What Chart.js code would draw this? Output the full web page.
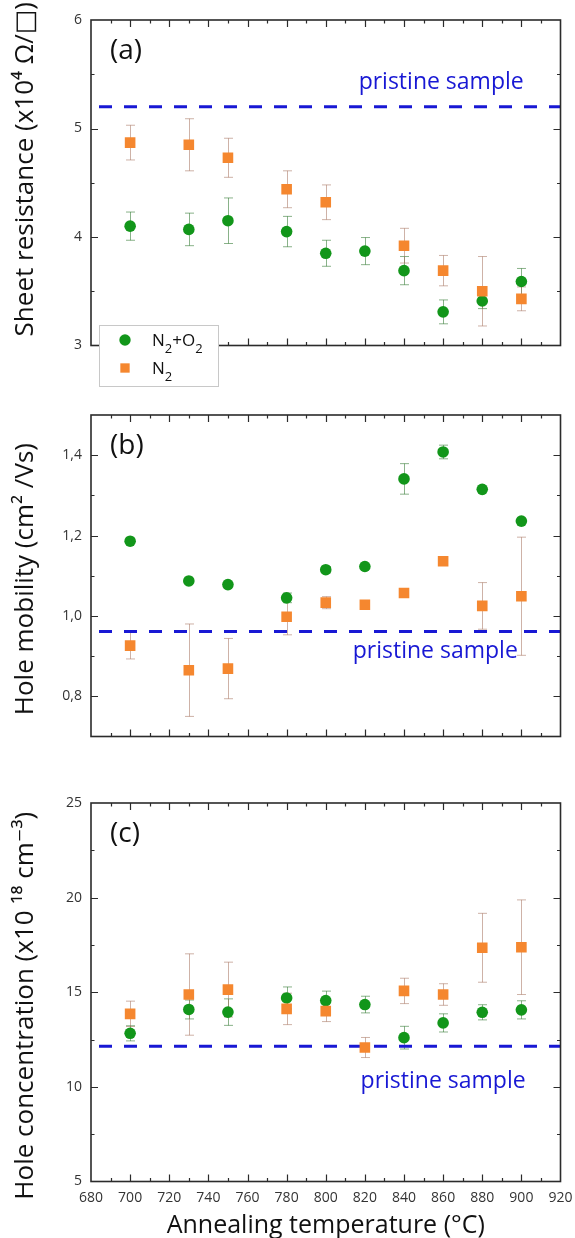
<!DOCTYPE html>
<html>
<head>
<meta charset="utf-8">
<script src="https://cdn.jsdelivr.net/npm/chart.js@4.4.1/dist/chart.umd.min.js"></script>
<style>
  html, body { margin: 0; padding: 0; background: #fff; }
  #wrap { position: relative; width: 575px; height: 1238px; overflow: hidden; }
  #wrap canvas { position: absolute; left: 0; top: 0; }
</style>
</head>
<body>
<div id="wrap">
  <canvas id="chartA" width="575" height="1238"></canvas>
  <canvas id="chartB" width="575" height="1238"></canvas>
  <canvas id="chartC" width="575" height="1238"></canvas>
</div>
<script>
// Annealing temperatures (°C)
const temperatures = [700, 730, 750, 780, 800, 820, 840, 860, 880, 900]
const tempTicks = [680, 700, 720, 740, 760, 780, 800, 820, 840, 860, 880, 900, 920]

// (a) sheet resistance (x10^4 ohm/sq)
const sheetN2O2 = [4.10, 4.07, 4.15, 4.05, 3.85, 3.87, 3.69, 3.31, 3.41, 3.59]
const sheetN2O2Err = [0.13, 0.15, 0.21, 0.14, 0.12, 0.125, 0.13, 0.11, 0.07, 0.12]
const sheetN2 = [4.87, 4.85, 4.73, 4.44, 4.32, null, 3.92, 3.69, 3.50, 3.43]
const sheetN2Err = [0.16, 0.24, 0.18, 0.17, 0.16, null, 0.16, 0.14, 0.32, 0.11]
const sheetPristine = 5.2
const sheetTicks = [3, 4, 5, 6]

// (b) hole mobility (cm2/Vs)
const mobN2O2 = [1.186, 1.087, 1.078, 1.045, 1.115, 1.123, 1.341, 1.408, 1.315, 1.236]
const mobN2O2Err = [0.005, 0.005, 0.005, 0.012, 0.008, 0.005, 0.038, 0.017, 0.005, 0.005]
const mobN2 = [0.926, 0.865, 0.869, 0.998, 1.033, 1.028, 1.057, 1.136, 1.025, 1.049]
const mobN2Err = [0.033, 0.115, 0.075, 0.045, 0.015, 0.005, 0.006, 0.006, 0.058, 0.147]
const mobPristine = 0.961
const mobTicks = [0.8, 1.0, 1.2, 1.4]

// (c) hole concentration (x10^18 cm^-3)
const concN2O2 = [12.83, 14.09, 13.95, 14.70, 14.56, 14.35, 12.60, 13.38, 13.94, 14.07]
const concN2O2Err = [0.40, 0.50, 0.70, 0.58, 0.50, 0.44, 0.60, 0.48, 0.40, 0.48]
const concN2 = [13.86, 14.88, 15.14, 14.12, 14.00, 12.08, 15.07, 14.88, 17.35, 17.38]
const concN2Err = [0.67, 2.15, 1.45, 0.83, 0.55, 0.53, 0.67, 0.57, 1.82, 2.50]
const concPristine = 12.15
const concTicks = [5, 10, 15, 20, 25]

const FONT = "'Open Sans', 'DejaVu Sans', sans-serif"
const GREEN = '#12961a'
const ORANGE = '#f5872f'
const BLUE = '#1818d4'

Chart.defaults.font.family = FONT

const points = (vals, errs) =>
  temperatures
    .map((t, i) => ({ x: t, y: vals[i], err: errs[i] }))
    .filter(p => p.y !== null)

// vertical error bars with caps, drawn under the markers
const errorBars = {
  id: 'errorBars',
  beforeDatasetsDraw(chart) {
    const { ctx, scales: { x, y } } = chart
    chart.data.datasets.forEach(ds => {
      if (!ds.errorColor) return
      ctx.save()
      ctx.strokeStyle = ds.errorColor
      ctx.lineWidth = 1
      ds.data.forEach(p => {
        if (!p.err) return
        const px = Math.round(x.getPixelForValue(p.x)) + 0.5
        const top = y.getPixelForValue(p.y + p.err)
        const bot = y.getPixelForValue(p.y - p.err)
        ctx.beginPath()
        ctx.moveTo(px, top); ctx.lineTo(px, bot)
        ctx.moveTo(px - 4.5, top); ctx.lineTo(px + 4.5, top)
        ctx.moveTo(px - 4.5, bot); ctx.lineTo(px + 4.5, bot)
        ctx.stroke()
      })
      ctx.restore()
    })
  }
}

// box frame with inward major/minor ticks on all four sides
const frameTicks = {
  id: 'frameTicks',
  afterDatasetsDraw(chart, args, opts) {
    const { ctx, chartArea: a, scales: { x, y } } = chart
    const isMajor = (v, step) => Math.abs(v / step - Math.round(v / step)) < 1e-6
    ctx.save()
    ctx.strokeStyle = '#2b2b2b'
    ctx.lineWidth = 1.2
    ctx.beginPath()
    for (let i = 1; x.min + i * opts.xMinor < x.max - 1e-9; i++) {
      const v = x.min + i * opts.xMinor
      const len = isMajor(v, opts.xMajor) ? 7 : 3.5
      const px = Math.round(x.getPixelForValue(v)) + 0.5
      ctx.moveTo(px, a.bottom); ctx.lineTo(px, a.bottom - len)
      ctx.moveTo(px, a.top); ctx.lineTo(px, a.top + len)
    }
    for (let i = 1; y.min + i * opts.yMinor < y.max - 1e-9; i++) {
      const v = y.min + i * opts.yMinor
      const len = isMajor(v, opts.yMajor) ? 7 : 3.5
      const py = Math.round(y.getPixelForValue(v)) + 0.5
      ctx.moveTo(a.left, py); ctx.lineTo(a.left + len, py)
      ctx.moveTo(a.right, py); ctx.lineTo(a.right - len, py)
    }
    ctx.stroke()
    ctx.lineWidth = 1.6
    ctx.strokeRect(a.left, a.top, a.right - a.left, a.bottom - a.top)
    ctx.restore()
  }
}

// "pristine sample" text next to the dashed reference line
const pristineLabel = {
  id: 'pristineLabel',
  afterDatasetsDraw(chart, args, opts) {
    const { ctx, scales: { x, y } } = chart
    ctx.save()
    ctx.font = `23px ${FONT}`
    ctx.fillStyle = BLUE
    ctx.textAlign = 'center'
    ctx.textBaseline = 'alphabetic'
    ctx.fillText(opts.text, x.getPixelForValue(opts.atX), y.getPixelForValue(opts.atY) + opts.dy)
    ctx.restore()
  }
}

// panel letter (a), (b), (c)
const panelLetter = {
  id: 'panelLetter',
  afterDraw(chart, args, opts) {
    const { ctx, chartArea: a } = chart
    ctx.save()
    ctx.font = `28px ${FONT}`
    ctx.fillStyle = '#111'
    ctx.textAlign = 'left'
    ctx.textBaseline = 'middle'
    ctx.fillText(opts.text, a.left + 19, a.top + 31)
    ctx.restore()
  }
}

// boxed legend inside panel (a), subscripts drawn smaller and lower
const insetLegend = {
  id: 'insetLegend',
  afterDraw(chart, args, opts) {
    if (!opts.display) return
    const { ctx } = chart
    ctx.save()
    ctx.fillStyle = '#fff'
    ctx.fillRect(opts.left, opts.top, opts.width, opts.height)
    ctx.strokeStyle = '#c8c8c8'
    ctx.lineWidth = 1
    ctx.strokeRect(opts.left + 0.5, opts.top + 0.5, opts.width, opts.height)
    chart.data.datasets.filter(ds => ds.legendParts).forEach((ds, i) => {
      const cy = opts.top + opts.firstRow + i * opts.rowGap
      ctx.fillStyle = ds.backgroundColor
      Chart.helpers.drawPoint(ctx, {
        pointStyle: ds.pointStyle, radius: ds.legendRadius, rotation: 0, borderWidth: 0
      }, opts.left + opts.markerX, cy)
      let tx = opts.left + opts.textX
      ctx.fillStyle = '#111'
      ctx.textBaseline = 'alphabetic'
      ctx.textAlign = 'left'
      ds.legendParts.forEach(([txt, sub]) => {
        ctx.font = sub ? `13px ${FONT}` : `17px ${FONT}`
        ctx.fillText(txt, tx, cy + (sub ? 13 : 6))
        tx += ctx.measureText(txt).width
      })
    })
    ctx.restore()
  }
}

function makePanel(canvasId, cfg) {
  const datasets = [
    {
      label: 'N2+O2',
      order: 1,
      data: points(cfg.n2o2, cfg.n2o2Err),
      pointStyle: 'circle',
      pointRadius: 5.8,
      legendRadius: 5.7,
      pointBorderWidth: 0,
      backgroundColor: GREEN,
      errorColor: 'rgba(40, 115, 40, 0.55)',
      legendParts: [['N', false], ['2', true], ['+O', false], ['2', true]]
    },
    {
      label: 'N2',
      order: 0,
      data: points(cfg.n2, cfg.n2Err),
      pointStyle: 'rect',
      pointRadius: 7.5,
      legendRadius: 6.6,
      pointBorderWidth: 0,
      backgroundColor: ORANGE,
      errorColor: 'rgba(165, 115, 95, 0.55)',
      legendParts: [['N', false], ['2', true]]
    },
    {
      type: 'line',
      label: 'pristine',
      order: 2,
      data: [{ x: 680, y: cfg.pristine }, { x: 920, y: cfg.pristine }],
      borderColor: BLUE,
      borderWidth: 3,
      borderDash: [13, 12],
      borderDashOffset: -8,
      pointRadius: 0
    }
  ]

  return new Chart(document.getElementById(canvasId), {
    type: 'scatter',
    data: { datasets },
    options: {
      responsive: false,
      animation: false,
      devicePixelRatio: 1,
      layout: { padding: { top: cfg.top, bottom: cfg.bottom, left: 0, right: 14.5 } },
      scales: {
        x: {
          type: 'linear',
          min: tempTicks[0],
          max: tempTicks[tempTicks.length - 1],
          display: cfg.showX,
          afterBuildTicks(scale) { scale.ticks = tempTicks.map(v => ({ value: v })) },
          afterFit(scale) {
            scale.height = 56.5
            scale.paddingLeft = 0
            scale.paddingRight = 0
          },
          grid: { display: false, drawTicks: false },
          border: { display: false },
          ticks: {
            padding: 8, maxRotation: 0, autoSkip: false,
            color: '#333', font: { size: 14 }
          },
          title: {
            display: true,
            text: 'Annealing temperature (°C)',
            color: '#111',
            font: { size: 25, lineHeight: 1 },
            padding: { top: 0, bottom: 0 }
          }
        },
        y: {
          min: cfg.yMin,
          max: cfg.yMax,
          afterBuildTicks(scale) { scale.ticks = cfg.yTicks.map(v => ({ value: v })) },
          afterFit(scale) {
            scale.width = 91
            scale.paddingTop = 0
            scale.paddingBottom = 0
          },
          grid: { display: false, drawTicks: false },
          border: { display: false },
          ticks: {
            padding: 9, color: '#333', font: { size: 14 },
            callback: cfg.yFormat
          },
          title: {
            display: true,
            text: cfg.yTitle,
            color: '#111',
            font: { size: 26, lineHeight: 1.2 },
            padding: { top: 10, bottom: 0 }
          }
        }
      },
      plugins: {
        legend: { display: false },
        tooltip: { enabled: false },
        frameTicks: { xMinor: 10, xMajor: 20, yMinor: cfg.yMinor, yMajor: cfg.yMinor * 2 },
        pristineLabel: { text: 'pristine sample', atX: cfg.labelX, atY: cfg.pristine, dy: cfg.labelDy },
        panelLetter: { text: cfg.letter },
        insetLegend: {
          display: cfg.legend, left: 99, top: 325, width: 119, height: 61,
          firstRow: 15, rowGap: 28, markerX: 26, textX: 53
        }
      }
    },
    plugins: [errorBars, frameTicks, pristineLabel, panelLetter, insetLegend]
  })
}

const commaFormat = v => v.toFixed(1).replace('.', ',')

// padding spaces nudge the centred axis titles the way they sit in the figure
makePanel('chartA', {
  n2o2: sheetN2O2, n2o2Err: sheetN2O2Err, n2: sheetN2, n2Err: sheetN2Err,
  pristine: sheetPristine,
  yMin: 3, yMax: 6, yTicks: sheetTicks, yMinor: 0.5, yFormat: v => String(v),
  yTitle: '    Sheet resistance (x10⁴ Ω/□)',
  top: 20, bottom: 836, showX: false,
  labelX: 859, labelDy: -18, letter: '(a)', legend: true
})

makePanel('chartB', {
  n2o2: mobN2O2, n2o2Err: mobN2O2Err, n2: mobN2, n2Err: mobN2Err,
  pristine: mobPristine,
  yMin: 0.7, yMax: 1.5, yTicks: mobTicks, yMinor: 0.1, yFormat: commaFormat,
  yTitle: 'Hole mobility (cm² /Vs) ',
  top: 415, bottom: 445, showX: false,
  labelX: 856, labelDy: 26, letter: '(b)', legend: false
})

makePanel('chartC', {
  n2o2: concN2O2, n2o2Err: concN2O2Err, n2: concN2, n2Err: concN2Err,
  pristine: concPristine,
  yMin: 5, yMax: 25, yTicks: concTicks, yMinor: 2.5, yFormat: v => String(v),
  yTitle: 'Hole concentration (x10 ¹⁸ cm⁻³)    ',
  top: 803, bottom: 0, showX: true,
  labelX: 860, labelDy: 42, letter: '(c)', legend: false
})
</script>
</body>
</html>
